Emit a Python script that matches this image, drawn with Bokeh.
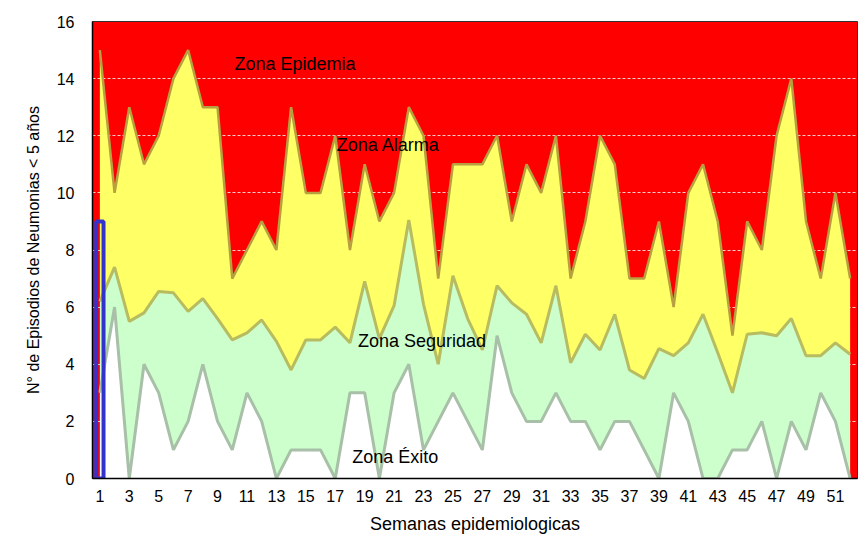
from bokeh.plotting import figure
from bokeh.models import Range1d, FixedTicker, Label
from bokeh.embed import file_html
from bokeh.resources import INLINE

# ---- data ----
weeks = list(range(1, 53))

# upper limit of "Zona Alarma" (top of yellow band)
upper = [15, 10, 13, 11, 12, 14, 15, 13, 13, 7, 8, 9, 8,
         13, 10, 10, 12, 8, 11, 9, 10, 13, 12, 7, 11, 11,
         11, 12, 9, 11, 10, 12, 7, 9, 12, 11, 7, 7, 9,
         6, 10, 11, 9, 5, 9, 8, 12, 14, 9, 7, 10, 7]

# upper limit of "Zona Seguridad" (top of green band)
middle = [6.2, 7.4, 5.5, 5.8, 6.55, 6.5, 5.85, 6.3, 5.6, 4.85, 5.1, 5.55, 4.8,
          3.8, 4.85, 4.85, 5.3, 4.75, 6.9, 4.9, 6.05, 9.05, 6.1, 4.0, 7.1, 5.6,
          4.5, 6.75, 6.15, 5.75, 4.75, 6.75, 4.05, 5.05, 4.5, 5.75, 3.8, 3.5, 4.55,
          4.3, 4.75, 5.75, 4.4, 3.0, 5.05, 5.1, 5.0, 5.6, 4.3, 4.3, 4.75, 4.35]

# upper limit of "Zona Éxito" (top of white band)
lower = [3, 6, 0, 4, 3, 1, 2, 4, 2, 1, 3, 2, 0,
         1, 1, 1, 0, 3, 3, 0, 3, 4, 1, 2, 3, 2,
         1, 5, 3, 2, 2, 3, 2, 2, 1, 2, 2, 1, 0,
         3, 2, 0, 0, 1, 1, 2, 0, 2, 1, 3, 2, 0]

# observed cases (current year)
case_weeks = [1]
cases = [9]

y_ticks = [0, 2, 4, 6, 8, 10, 12, 14, 16]
x_ticks = list(range(1, 52, 2))

FONT = "Liberation Sans"

p = figure(width=867, height=540,
           x_range=Range1d(0.5, 52.5), y_range=Range1d(0, 16),
           output_backend="svg", toolbar_location=None,
           min_border_left=92, min_border_right=10,
           min_border_top=21, min_border_bottom=62)

p.background_fill_color = "#FF0000"
p.border_fill_color = "white"
p.outline_line_color = "#333333"

# stacked zones
p.varea(x=weeks, y1=0, y2=lower, fill_color="white")
p.varea(x=weeks, y1=lower, y2=middle, fill_color="#CCFFCC")
p.varea(x=weeks, y1=middle, y2=upper, fill_color="#FFFF66")

# zone borders
p.line(weeks, upper, line_color="#B8A040", line_width=2.5)
p.line(weeks, middle, line_color="#B8BC60", line_width=3)
p.line(weeks, lower, line_color="#A8BFA8", line_width=3)

# cases column
p.vbar(x=case_weeks, top=cases, width=0.5, bottom=0,
       fill_color=None, line_color="#3333CC", line_width=4)

# zone labels
for txt, x, y in [("Zona Epidemia", 10.15, 14.5),
                  ("Zona Alarma", 17.1, 11.68),
                  ("Zona Seguridad", 18.55, 4.8),
                  ("Zona Éxito", 18.15, 0.74)]:
    p.add_layout(Label(x=x, y=y, text=txt, text_font=FONT,
                       text_font_size="18px", text_color="black",
                       text_baseline="middle", text_align="left"))

# grid
p.xgrid.visible = False
p.ygrid.ticker = FixedTicker(ticks=[2, 4, 6, 8, 10, 12, 14])
p.ygrid.grid_line_color = "white"
p.ygrid.grid_line_alpha = 0.8
p.ygrid.grid_line_dash = "3 2"
p.ygrid.grid_line_width = 1

# axes
p.yaxis.ticker = FixedTicker(ticks=y_ticks)
p.xaxis.ticker = FixedTicker(ticks=x_ticks)
for ax in (p.xaxis[0], p.yaxis[0]):
    ax.major_label_text_font = FONT
    ax.major_label_text_font_size = "16px"
    ax.major_label_text_color = "black"
    ax.axis_label_text_font = FONT
    ax.axis_label_text_font_style = "normal"
    ax.axis_label_text_color = "black"
    ax.major_tick_out = 0
    ax.major_tick_in = 0
    ax.minor_tick_out = 0
    ax.minor_tick_in = 0
    ax.axis_line_color = "black"
    ax.axis_line_width = 1.5

p.yaxis.axis_label = "N° de Episodios de Neumonias < 5 años"
p.yaxis.axis_label_text_font_size = "16px"
p.yaxis.major_label_standoff = 18
p.yaxis.axis_label_standoff = 12

p.xaxis.axis_label = "Semanas epidemiologicas"
p.xaxis.axis_label_text_font_size = "18px"
p.xaxis.major_label_standoff = 11
p.xaxis.axis_label_standoff = 9

open("out.html", "w").write(file_html(p, INLINE))
